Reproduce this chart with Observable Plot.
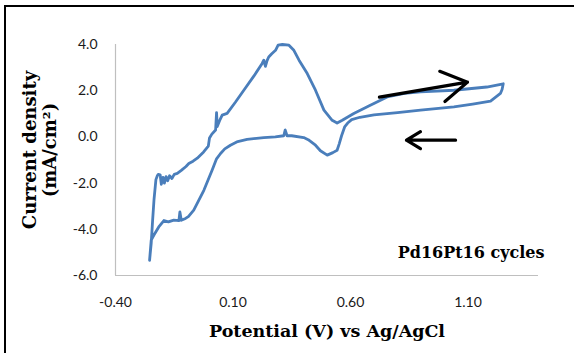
<!DOCTYPE html>
<html>
<head>
<meta charset="utf-8">
<script src="https://cdn.jsdelivr.net/npm/d3@7"></script>
<script src="https://cdn.jsdelivr.net/npm/@observablehq/plot@0.6"></script>
<style>
  html, body { margin: 0; padding: 0; background: #fff; }
  #wrap { position: relative; width: 574px; height: 353px; overflow: hidden; }
  #frame { position: absolute; left: 4px; top: 5px; width: 600px; height: 400px;
           border-left: 2.5px solid #000; border-top: 2.5px solid #000; pointer-events: none; }
  #chart { position: absolute; left: 0; top: 0; }
</style>
</head>
<body>
<div id="wrap"><div id="chart"></div><div id="frame"></div></div>
<script>
// Cyclic voltammogram, Pd16Pt16 (scan order)
const potential = [
  -0.255, -0.248, -0.242, -0.236, -0.228, -0.222, -0.218, -0.210, -0.205, -0.198, -0.192, -0.185,
  -0.178, -0.170, -0.160, -0.150, -0.137, -0.120, -0.100, -0.088, -0.070, -0.052, -0.025, -0.005,
  0.000, 0.010, 0.026, 0.030, 0.033, 0.045, 0.054, 0.075, 0.110, 0.146, 0.190, 0.224,
  0.231, 0.238, 0.245, 0.252, 0.265, 0.281, 0.292, 0.310, 0.338, 0.359, 0.381, 0.416,
  0.451, 0.487, 0.522, 0.543, 0.565, 0.614, 0.680, 0.756, 0.830, 0.898, 1.040, 1.180,
  1.250,
  1.245, 1.238, 1.196, 1.120, 1.040, 0.898, 0.800, 0.700, 0.640, 0.605, 0.588, 0.575,
  0.562, 0.552, 0.543, 0.525, 0.501, 0.472, 0.451, 0.420, 0.401, 0.350, 0.330, 0.322,
  0.316, 0.280, 0.231, 0.160, 0.120, 0.089, 0.065, 0.047, 0.030, 0.011, -0.024, -0.067,
  -0.090, -0.102, -0.120, -0.126, -0.130, -0.152, -0.175, -0.194, -0.216, -0.237, -0.248, -0.255
];
const current = [
  -5.34, -4.60, -3.60, -2.70, -1.85, -1.68, -1.62, -1.64, -2.05, -1.75, -2.00, -1.72,
  -1.90, -1.68, -1.80, -1.62, -1.58, -1.45, -1.28, -1.15, -1.05, -0.92, -0.65, -0.40,
  -0.05, 0.12, 0.30, 1.05, 0.45, 0.75, 0.94, 1.02, 1.50, 2.02, 2.65, 3.18,
  3.32, 3.05, 3.30, 3.46, 3.60, 3.75, 3.97, 4.00, 3.97, 3.75, 3.32, 2.74,
  2.02, 1.16, 0.72, 0.60, 0.72, 1.01, 1.35, 1.73, 1.88, 1.95, 2.02, 2.16,
  2.30,
  2.05, 1.88, 1.55, 1.42, 1.30, 1.16, 1.05, 0.95, 0.85, 0.75, 0.60, 0.43,
  0.05, -0.30, -0.58, -0.68, -0.79, -0.60, -0.36, -0.12, -0.03, 0.05, 0.05, 0.30,
  0.05, 0.00, -0.03, -0.11, -0.20, -0.36, -0.52, -0.72, -0.95, -1.44, -2.31, -3.17,
  -3.45, -3.53, -3.61, -3.25, -3.62, -3.60, -3.68, -3.62, -3.90, -4.26, -4.47, -5.34
];

const xDomain = [-0.4, 1.4];
const yDomain = [-6, 4];
const xTicks = [-0.4, 0.1, 0.6, 1.1];
const yTicks = [-6, -4, -2, 0, 2, 4];

// scan-direction arrows (data units)
const arrowX1 = [0.723, 1.047];
const arrowY1 = [1.72, -0.14];
const arrowX2 = [1.098, 0.838];
const arrowY2 = [2.37, -0.14];

const yTitle = "Current density\n(mA/cm\u00B2)";
const xTitle = "Potential (V) vs Ag/AgCl";
const note = "Pd16Pt16 cycles";

const points = potential.map((p, i) => ({p, c: current[i]}));
const arrows = arrowX1.map((x1, i) => ({x1, y1: arrowY1[i], x2: arrowX2[i], y2: arrowY2[i]}));

const serif = "'DejaVu Serif', serif";

const chart = Plot.plot({
  width: 574,
  height: 353,
  marginLeft: 115,
  marginRight: 36,
  marginTop: 44,
  marginBottom: 78,
  style: {fontFamily: "Lato, 'Liberation Sans', sans-serif", fontSize: "14px", color: "#1a1a1a", background: "transparent"},
  x: {domain: xDomain, label: null},
  y: {domain: yDomain, label: null},
  marks: [
    Plot.axisX({ticks: xTicks, tickSize: 0, tickPadding: 22, tickFormat: d => d.toFixed(2), fontSize: 14, label: null}),
    Plot.axisY({ticks: yTicks, tickSize: 0, tickPadding: 18, tickFormat: d => d.toFixed(1), fontSize: 14, label: null}),
    Plot.ruleX([xDomain[0]], {stroke: "#bfbfbf", strokeWidth: 1.2}),
    Plot.ruleY([yDomain[0]], {stroke: "#bfbfbf", strokeWidth: 1.2}),
    Plot.line(points, {x: "p", y: "c", stroke: "#4a7ebb", strokeWidth: 2.8, strokeLinejoin: "round", strokeLinecap: "round"}),
    Plot.arrow(arrows, {x1: "x1", y1: "y1", x2: "x2", y2: "y2", stroke: "#000", strokeWidth: 3.2, headLength: 18, headAngle: 62}),
    Plot.text([note], {frameAnchor: "bottom-right", text: d => d, textAnchor: "end", lineAnchor: "middle", dx: 6, dy: -23,
      fontFamily: serif, fontWeight: "bold", fontSize: 16, fill: "#000"}),
    Plot.text([xTitle], {frameAnchor: "bottom", text: d => d, textAnchor: "middle", lineAnchor: "middle", dy: 56,
      fontFamily: serif, fontWeight: "bold", fontSize: 17.5, fill: "#000"}),
    Plot.text([yTitle], {frameAnchor: "left", text: d => d, textAnchor: "middle", lineAnchor: "middle", rotate: -90,
      dx: -76, dy: -10, lineHeight: 1.12,
      fontFamily: serif, fontWeight: "bold", fontSize: 18, fill: "#000"})
  ]
});
document.getElementById("chart").appendChild(chart);
</script>
</body>
</html>
